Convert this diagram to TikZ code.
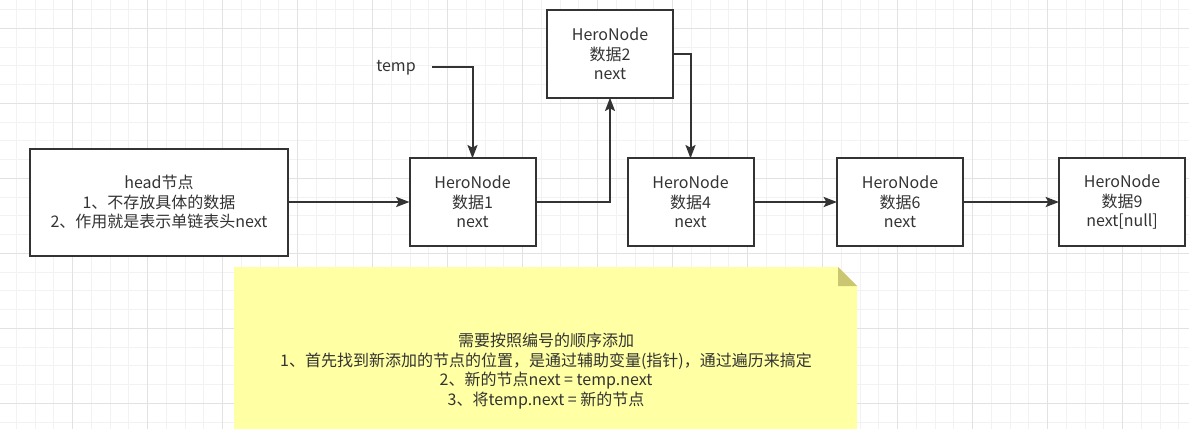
\documentclass[tikz,border=0pt]{standalone}
\usepackage{fontspec}
\setmainfont{Noto Sans CJK SC}
\usepackage{tikz}
\usetikzlibrary{arrows.meta,calc,positioning}
\usepackage{xcolor}
\definecolor{ink}{HTML}{333333}
\definecolor{gridminor}{HTML}{F2F2F2}
\definecolor{gridmajor}{HTML}{E2E2E2}
\definecolor{notefill}{HTML}{FFFFA3}
\definecolor{notefold}{HTML}{CBC672}
\newcommand{\boxfont}{\fontsize{12pt}{14.7pt}\selectfont}
\tikzset{
  >={Stealth[length=10pt,width=7.5pt,inset=2pt]},
  headbox/.style={draw=ink,fill=white,line width=1.5pt,align=center,text=ink,
                  font=\boxfont,inner sep=0pt,outer sep=0pt,
                  minimum width=193.5pt,minimum height=80.25pt},
  herobox/.style={draw=ink,fill=white,line width=1.5pt,align=center,text=ink,
                  font=\boxfont,inner sep=0pt,outer sep=0pt,
                  minimum width=94.5pt,minimum height=65.5pt},
  link/.style={->,draw=ink,line width=1.5pt},
  plaintext/.style={text=ink,font=\boxfont,align=center,inner sep=0pt},
  minorline/.style={draw=gridminor,line width=0.75pt},
  majorline/.style={draw=gridmajor,line width=0.75pt}
}

\begin{document}
\begin{tikzpicture}[x=0.75pt,y=-0.75pt,line join=miter]
  \useasboundingbox (0,0) rectangle (1189,429);
  % Grid
  \foreach \i in {0,...,62}
    \draw[minorline] ({16.45+18.75*\i},0) -- ++(0,429);
  \foreach \i in {0,...,22}
    \draw[minorline] (0,{9.55+18.75*\i}) -- ++(1189,0);
  \foreach \i in {0,...,14}
    \draw[majorline] ({72.7+75*\i},0) -- ++(0,429);
  \foreach \i in {0,...,5}
    \draw[majorline] (0,{28.3+75*\i}) -- ++(1189,0);

  % Note
  \fill[notefill] (234,267) -- (838,267) -- (857,286) -- (857,429)
    -- (234,429) -- cycle;
  \fill[notefold] (838,267) -- (857,286) -- (838,286) -- cycle;
  \node[plaintext] (note) at (546,371)
    {需要按照编号的顺序添加\\
     1、首先找到新添加的节点的位置，是通过辅助变量(指针)，通过遍历来搞定\\
     2、新的节点next = temp.next\\
     3、将temp.next = 新的节点};

  % List
  \node[headbox] (head) at (159,202)
    {head节点\\1、不存放具体的数据\\2、作用就是表示单链表头next};
  \node[herobox] (n1) at (472.5,202) {HeroNode\\数据1\\next};
  \node[herobox] (n2) at (610,54) {HeroNode\\数据2\\next};
  \node[herobox] (n4) at (690.5,202) {HeroNode\\数据4\\next};
  \node[herobox] (n6) at (900,202) {HeroNode\\数据6\\next};
  \node[herobox] (n9) at (1122,202) {HeroNode\\数据9\\next[null]};
  \node[plaintext] (temp) at (396,68) {temp};
  \coordinate (tempout) at (432,67);

  \draw[link] (head) -- (n1);
  \draw[link] (n1.east) -| (n2.south);
  \draw[link] (n2.east) -| (n4.north);
  \draw[link] (n4) -- (n6);
  \draw[link] (n6) -- (n9);
  \draw[link] (tempout) -| (n1.north);
\end{tikzpicture}
\end{document}
